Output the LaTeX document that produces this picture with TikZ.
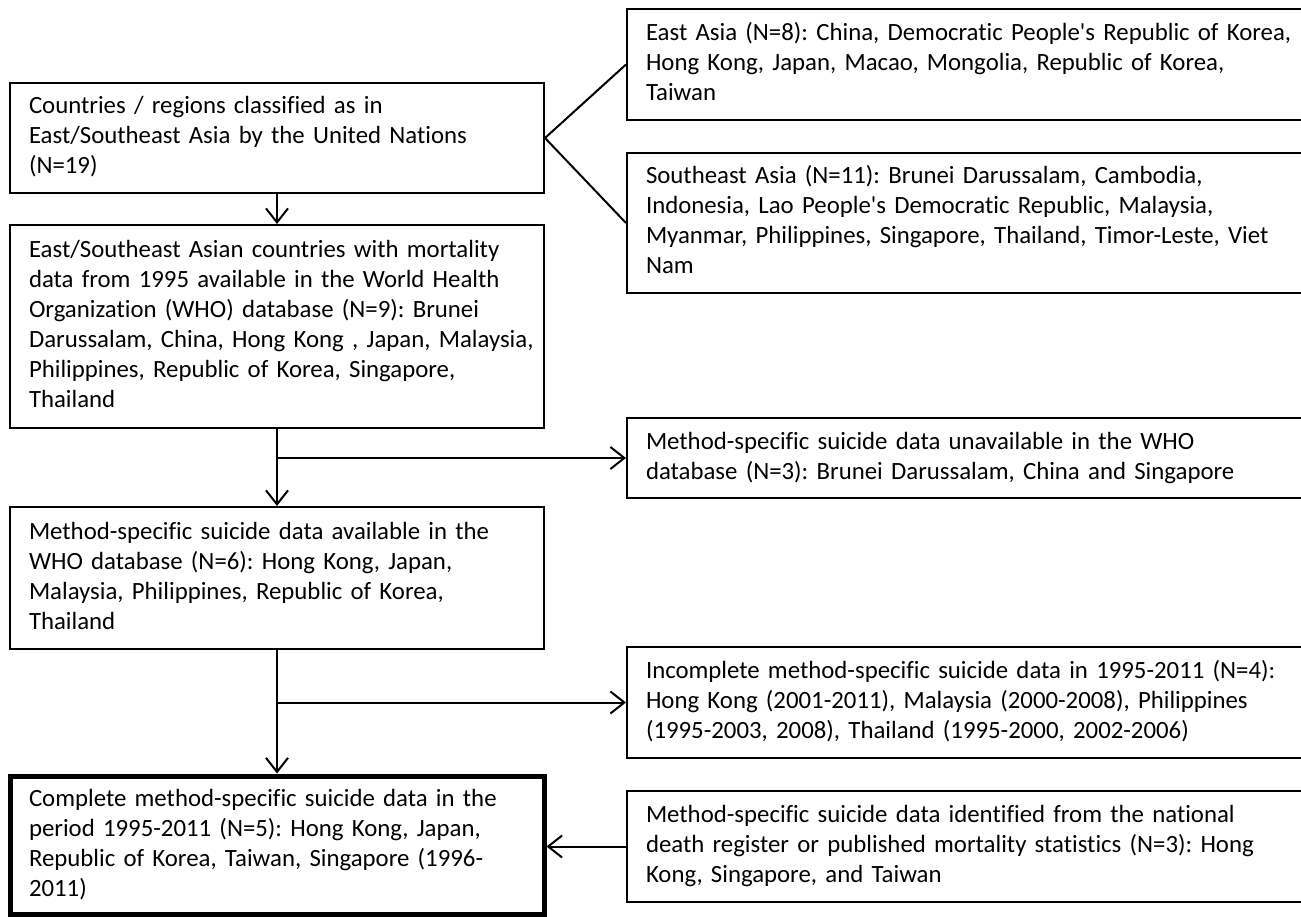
\documentclass[tikz,border=0pt]{standalone}
\usepackage{fontspec}
\setmainfont{Carlito}[Ligatures={NoCommon}]
\usetikzlibrary{arrows.meta}
\newcommand{\boxlines}[1]{\begin{tabular}{@{}l@{}}#1\end{tabular}}
\frenchspacing
\begin{document}
\begin{tikzpicture}[x=1pt,y=-1pt,
  box/.style={draw, line width=2pt, rectangle, inner xsep=19pt, inner ysep=0pt,
    align=left, font=\fontsize{24.8}{30}\selectfont\frenchspacing},
  leftbox/.style={box, text width=496pt, minimum height=#1},
  rightbox/.style={box, text width=645pt, minimum height=#1},
  link/.style={line width=2pt},
  arr/.style={line width=2pt, -{Straight Barb[length=14pt,width=22pt]}}
]
\useasboundingbox (0,0) rectangle (1301,917);
\fill[white] (0,0) rectangle (1301,917);
\clip (0,0) rectangle (1301,917);

% left column
\node[leftbox=110pt] (b1) at (277,138) {\boxlines{Countries / regions classified as in\\East/Southeast Asia by the United Nations\\(N=19)}};
\node[leftbox=203pt] (b2) at (277,326.5) {\boxlines{East/Southeast Asian countries with mortality\\data from 1995 available in the World Health\\Organization (WHO) database (N=9): Brunei\\Darussalam, China, Hong Kong , Japan, Malaysia,\\Philippines, Republic of Korea, Singapore,\\Thailand}};
\node[leftbox=142pt] (b3) at (277,578) {\boxlines{Method-specific suicide data available in the\\WHO database (N=6): Hong Kong, Japan,\\Malaysia, Philippines, Republic of Korea,\\Thailand}};
\node[leftbox=138pt, line width=5pt] (b4) at (277,845) {\boxlines{Complete method-specific suicide data in the\\period 1995-2011 (N=5): Hong Kong, Japan,\\Republic of Korea, Taiwan, Singapore (1996-\\2011)}};

% right column
\node[rightbox=111pt] (e) at (968.5,64.5) {\boxlines{East Asia (N=8): China, Democratic People\textquotesingle s Republic of Korea,\\Hong Kong, Japan, Macao, Mongolia, Republic of Korea,\\Taiwan}};
\node[rightbox=140pt] (s) at (968.5,223) {\boxlines{Southeast Asia (N=11): Brunei Darussalam, Cambodia,\\Indonesia, Lao People\textquotesingle s Democratic Republic, Malaysia,\\Myanmar, Philippines, Singapore, Thailand, Timor-Leste, Viet\\Nam}};
\node[rightbox=80pt] (u) at (968.5,458) {\boxlines{Method-specific suicide data unavailable in the WHO\\database (N=3): Brunei Darussalam, China and Singapore}};
\node[rightbox=111pt] (i) at (968.5,702.5) {\boxlines{Incomplete method-specific suicide data in 1995-2011 (N=4):\\Hong Kong (2001-2011), Malaysia (2000-2008), Philippines\\(1995-2003, 2008), Thailand (1995-2000, 2002-2006)}};
\node[rightbox=111pt] (d) at (968.5,846.5) {\boxlines{Method-specific suicide data identified from the national\\death register or published mortality statistics (N=3): Hong\\Kong, Singapore, and Taiwan}};

% connectors
\draw[link] (b1.east) -- (e.west);
\draw[link] (b1.east) -- (s.west);
\draw[arr] (b1.south) -- (b2.north);
\draw[arr] (b2.south) -- (b3.north);
\coordinate (j1) at (b2.south |- u.west);
\draw[arr] (j1) -- (u.west);
\draw[arr] (b3.south) -- (b4.north);
\coordinate (j2) at (b3.south |- i.west);
\draw[arr] (j2) -- (i.west);
\draw[arr] (d.west) -- (d.west -| b4.east);
\end{tikzpicture}
\end{document}
